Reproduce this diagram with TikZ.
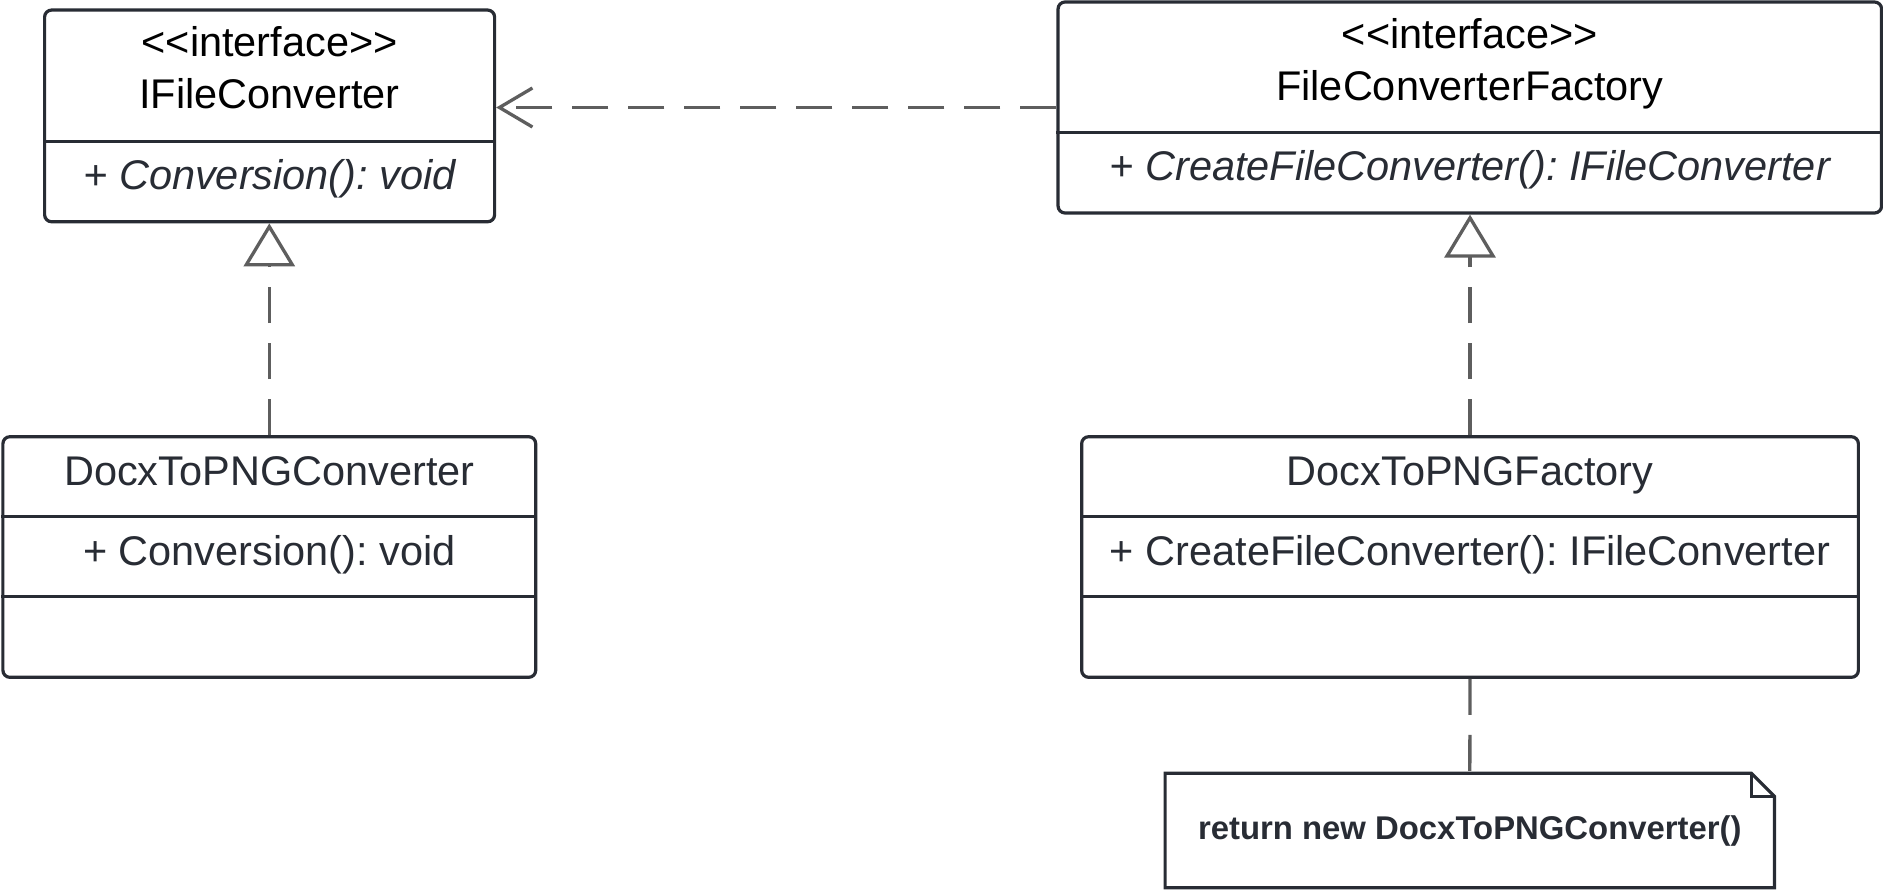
\documentclass[tikz,border=0pt]{standalone}
\usepackage{fontspec}
\setmainfont{Liberation Sans}
\frenchspacing
\usepackage{tikz}
\usetikzlibrary{arrows.meta}
\definecolor{boxc}{RGB}{40,44,52}
\definecolor{linkc}{RGB}{94,94,94}
\tikzset{
    umlbox/.style={draw=boxc, line width=0.32mm, rounded corners=0.7mm, fill=white, inner sep=0pt},
    compline/.style={draw=boxc, line width=0.32mm},
    umltext/.style={anchor=base, inner sep=0pt, text=boxc, font=\fontsize{11.8}{14}\selectfont},
    headtext/.style={umltext, text=black},
    optext/.style={umltext, font=\fontsize{11.8}{14}\selectfont\itshape},
    dashedlink/.style={draw=linkc, line width=0.33mm, dash pattern=on 3.6mm off 2mm},
    realizes/.style={dashedlink, -{Triangle[length=4.3mm, width=5.1mm, fill=white, line width=0.33mm]}},
    uses/.style={dashedlink, -{Straight Barb[length=3.3mm, width=3.9mm, line width=0.33mm]}},
    notebox/.style={minimum width=6.08cm, minimum height=1.13cm, inner sep=0pt, text=boxc, font=\bfseries\fontsize{9.35}{11}\selectfont},
}
\begin{document}
\begin{tikzpicture}
            \useasboundingbox (0,0) rectangle (18.83,-8.89);
            \node[umlbox, minimum width=4.5cm, minimum height=2.117cm] at (2.696,-1.159) (ifc) {};
            \node[umlbox, minimum width=8.235cm, minimum height=2.11cm] at (14.698,-1.075) (fcf) {};
            \node[umlbox, minimum width=5.328cm, minimum height=2.406cm] at (2.693,-5.57) (dpc) {};
            \node[umlbox, minimum width=7.767cm, minimum height=2.406cm] at (14.70,-5.57) (dpf) {};
            \draw[compline] (ifc.west |- 0,-1.417) to (ifc.east |- 0,-1.417);
            \draw[compline] (fcf.west |- 0,-1.327) to (fcf.east |- 0,-1.327);
            \draw[compline] (dpc.west |- 0,-5.167) to (dpc.east |- 0,-5.167);
            \draw[compline] (dpc.west |- 0,-5.967) to (dpc.east |- 0,-5.967);
            \draw[compline] (dpf.west |- 0,-5.167) to (dpf.east |- 0,-5.167);
            \draw[compline] (dpf.west |- 0,-5.967) to (dpf.east |- 0,-5.967);
            \node[headtext] at (2.696,-0.567) (ifcst) {<\kern0pt<interface>\kern0pt>};
            \node[headtext] at (2.696,-1.083) (ifcname) {IFileConverter};
            \node[optext] at (2.696,-1.89) (ifcop) {+ Conversion(): void};
            \node[headtext] at (14.698,-0.487) (fcfst) {<\kern0pt<interface>\kern0pt>};
            \node[headtext] at (14.698,-1.0) (fcfname) {FileConverterFactory};
            \node[optext] at (14.698,-1.80) (fcfop) {+ CreateFileConverter(): IFileConverter};
            \node[umltext] at (2.693,-4.85) (dpcname) {DocxToPNGConverter};
            \node[umltext] at (2.693,-5.655) (dpcop) {+ Conversion(): void};
            \node[umltext] at (14.70,-4.85) (dpfname) {DocxToPNGFactory};
            \node[umltext] at (14.70,-5.655) (dpfop) {+ CreateFileConverter(): IFileConverter};
            \node[notebox] at (14.698,-8.305) (note) {return new DocxToPNGConverter()};
            \draw[compline] (note.south west) to (note.north west) to ([xshift=-0.23cm]note.north east) to ([yshift=-0.23cm]note.north east) to (note.south east) to cycle;
            \draw[compline] ([xshift=-0.23cm]note.north east) |- ([yshift=-0.23cm]note.north east);
            \draw[uses] (fcf.west) to (fcf.west -| ifc.east);
            \draw[realizes] (dpc.north) to (dpc.north |- ifc.south);
            \draw[realizes] (dpf.north) to (dpf.north |- fcf.south);
            \draw[dashedlink] (dpf.south) to (note.north);
        \end{tikzpicture}
\end{document}
